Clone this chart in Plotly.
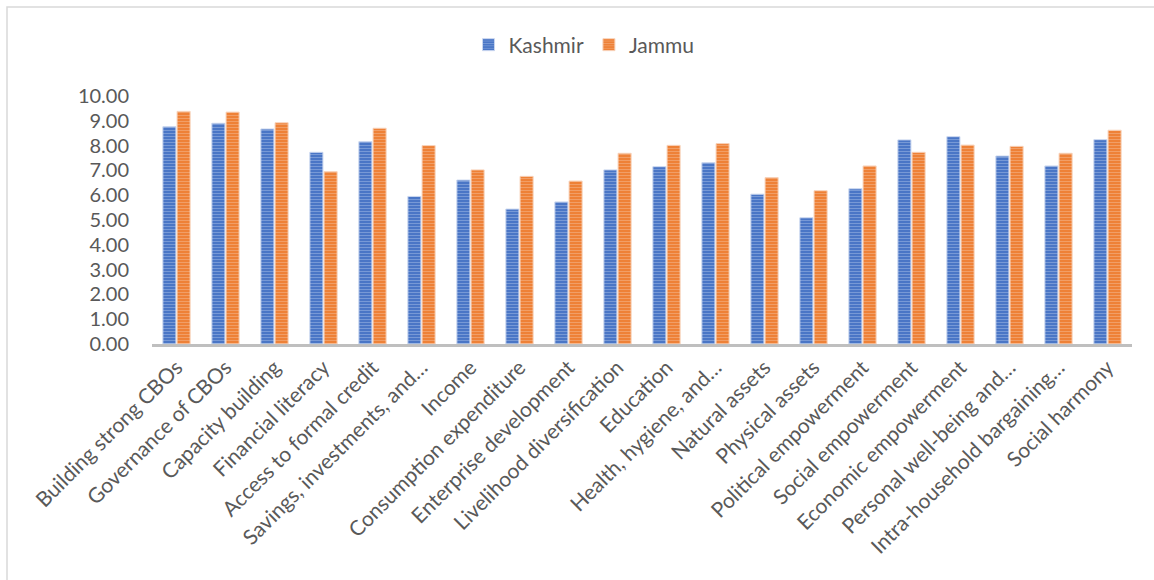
import plotly.graph_objects as go

categories = [
    "Building strong CBOs", "Governance of CBOs", "Capacity building", "Financial literacy",
    "Access to formal credit", "Savings, investments, and…", "Income", "Consumption expenditure",
    "Enterprise development", "Livelihood diversification", "Education", "Health, hygiene, and…",
    "Natural assets", "Physical assets", "Political empowerment", "Social empowerment",
    "Economic empowerment", "Personal well-being and…", "Intra-household bargaining…", "Social harmony",
]
kashmir = [8.76, 8.90, 8.67, 7.73, 8.16, 5.95, 6.61, 5.44, 5.73, 7.02,
           7.15, 7.31, 6.04, 5.09, 6.26, 8.23, 8.36, 7.58, 7.18, 8.24]
jammu = [9.38, 9.35, 8.92, 6.95, 8.70, 8.00, 7.02, 6.76, 6.57, 7.69,
         8.01, 8.08, 6.71, 6.18, 7.18, 7.73, 8.02, 7.97, 7.69, 8.62]

FONT = "Lato"
GREY = "#595959"

fig = go.Figure()
fig.add_trace(go.Bar(
    name="Kashmir", x=categories, y=kashmir,
    marker=dict(color="#4472C4", line=dict(color="#c9d6ef", width=1),
                pattern=dict(shape="-", fgcolor="#a9bfe8", size=3, solidity=0.4,
                             fillmode="overlay")),
))
fig.add_trace(go.Bar(
    name="Jammu", x=categories, y=jammu,
    marker=dict(color="#ED7D31", line=dict(color="#f8d3bb", width=1),
                pattern=dict(shape="-", fgcolor="#f6c09c", size=3, solidity=0.4,
                             fillmode="overlay")),
))

W, H = 1154, 580
L, R, T, B = 152, 22, 96, 236
pw, ph = W - L - R, H - T - B

def px_x(p):
    return (p - L) / pw

def px_y(p):
    return (H - B - p) / ph

fig.add_shape(type="rect", xref="paper", yref="paper",
              x0=px_x(7), x1=px_x(1170), y0=px_y(600), y1=px_y(7),
              line=dict(color="#d9d9d9", width=1.5), fillcolor="rgba(0,0,0,0)", layer="below")

fig.update_layout(
    width=W, height=H,
    margin=dict(l=L, r=R, t=T, b=B),
    paper_bgcolor="white", plot_bgcolor="white",
    barmode="group", bargap=0.42, bargroupgap=0.08,
    font=dict(family=FONT, color=GREY, size=20),
    showlegend=True,
    legend=dict(orientation="h", x=px_x(584), xanchor="center", y=px_y(45), yanchor="middle",
                font=dict(size=21, color=GREY), itemwidth=30, traceorder="normal"),
    xaxis=dict(showline=True, linecolor="#bfbfbf", linewidth=3, tickangle=-45,
               tickfont=dict(size=21, color=GREY), showgrid=False, ticks="",
               fixedrange=True),
    yaxis=dict(range=[0, 10], dtick=1, tickformat=".2f", showgrid=False, showline=False,
               zeroline=False, tickfont=dict(size=20, color=GREY), ticklabelstandoff=22,
               fixedrange=True),
)

fig.write_html("out.html")
